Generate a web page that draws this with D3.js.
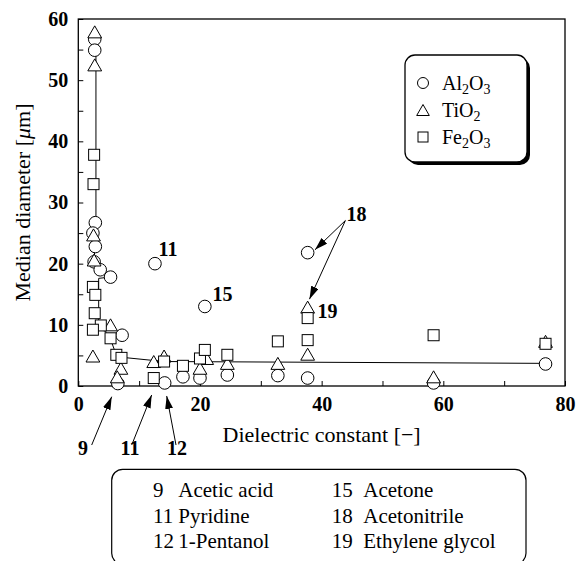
<!DOCTYPE html>
<html>
<head>
<meta charset="utf-8">
<script src="https://cdn.jsdelivr.net/npm/d3@7"></script>
<style>
body { margin: 0; background: #fff; }
text { font-family: "Liberation Serif", "Times New Roman", serif; fill: #000; }
</style>
</head>
<body>
<svg id="chart" width="576" height="561"></svg>
<script>
// data (median diameter vs dielectric constant)
const al2o3X = [2.7, 2.7, 2.8, 2.4, 2.8, 2.6, 3.6, 5.3, 7.2, 6.5, 12.6, 14.2, 17.2, 20.0, 20.8, 24.5, 32.8, 37.7, 37.7, 58.4, 76.8];
const al2o3Y = [56.7, 54.9, 26.7, 25.0, 22.8, 20.3, 19.0, 17.8, 8.3, 0.4, 20.0, 0.5, 1.5, 1.3, 13.0, 1.8, 1.7, 21.8, 1.3, 0.5, 3.6];

const tio2X = [2.7, 2.7, 2.5, 2.6, 5.3, 2.4, 7.0, 6.4, 12.4, 14.1, 21.1, 20.0, 24.5, 32.8, 37.7, 37.7, 58.4, 76.8];
const tio2Y = [57.9, 52.5, 24.7, 20.6, 10.0, 4.9, 2.9, 1.5, 4.0, 4.9, 4.5, 2.9, 3.7, 3.7, 12.9, 5.2, 1.5, 7.3];

const fe2o3X = [2.6, 2.5, 2.4, 2.8, 2.7, 3.7, 2.4, 5.3, 6.25, 7.1, 12.4, 14.1, 17.2, 20.0, 20.8, 24.5, 32.8, 37.7, 37.7, 58.4, 76.8];
const fe2o3Y = [37.8, 33.0, 16.2, 14.9, 11.9, 9.9, 9.2, 7.8, 5.1, 4.6, 1.3, 4.0, 3.3, 4.5, 5.9, 5.1, 7.3, 11.1, 7.5, 8.3, 6.9];

// guide line drawn through the data
const fitX = [2.9, 2.9, 2.6, 5.2, 3.35, 3.35, 5.2, 6.2, 7.1, 14.1, 76.8];
const fitY = [57.5, 26.6, 20.3, 17.8, 17.6, 10.3, 7.9, 5.2, 4.7, 4.0, 3.7];

const materials = ['Al2O3', 'TiO2', 'Fe2O3'];

const xTicks = [0, 10, 20, 30, 40, 50, 60, 70, 80];
const yTicks = [0, 5, 10, 15, 20, 25, 30, 35, 40, 45, 50, 55, 60];

// numbered solvents
const pointLabels = ['11', '15', '18', '19', '9', '11', '12'];
const pointLabelX = [14.74, 23.7, 45.73, 40.96, 0.77, 8.5, 16.23];
const pointLabelY = [22.4, 14.96, 28.2, 12.26, -10.14, -10.14, -10.14];

const arrowFromX = [2.2, 8.78, 16.06, 43.9, 43.9];
const arrowFromY = [-9.65, -9.65, -9.65, 27.05, 27.05];
const arrowToX = [5.49, 12.06, 14.53, 38.9, 38.0];
const arrowToY = [-1.75, -1.47, -1.63, 22.26, 14.2];

const solventNo = ['9', '11', '12', '15', '18', '19'];
const solventName = ['Acetic acid', 'Pyridine', '1-Pentanol', 'Acetone', 'Acetonitrile', 'Ethylene glycol'];

const svg = d3.select('#chart');

const x = d3.scaleLinear().domain([0, 80]).range([78.3, 565]);
const y = d3.scaleLinear().domain([0, 60]).range([386, 19]);

svg.append('rect').attr('width', 576).attr('height', 561).attr('fill', '#fff');

// axes, ticks pointing inward
svg.append('g')
    .attr('transform', 'translate(0,' + y(0) + ')')
    .call(d3.axisBottom(x).tickValues(xTicks).tickSize(-5).tickPadding(11)
        .tickFormat((d) => d % 20 === 0 ? d : ''))
    .call(g => g.select('.domain').remove())
    .call(g => g.selectAll('line').attr('stroke', '#000').attr('stroke-width', 1))
    .call(g => g.selectAll('text').attr('font-family', '"Liberation Serif", serif')
        .attr('font-size', 20).attr('font-weight', 'bold').attr('fill', '#000'));

svg.append('g')
    .attr('transform', 'translate(' + x(0) + ',0)')
    .call(d3.axisLeft(y).tickValues(yTicks).tickSize(-5).tickPadding(10)
        .tickFormat((d) => d % 10 === 0 ? d : ''))
    .call(g => g.select('.domain').remove())
    .call(g => g.selectAll('line').attr('stroke', '#000').attr('stroke-width', 1))
    .call(g => g.selectAll('text').attr('font-family', '"Liberation Serif", serif')
        .attr('font-size', 20).attr('font-weight', 'bold').attr('fill', '#000'));

svg.append('rect')
    .attr('x', x(0)).attr('y', y(60))
    .attr('width', x(80) - x(0)).attr('height', y(0) - y(60))
    .attr('fill', 'none').attr('stroke', '#000').attr('stroke-width', 1.3);

// axis titles
svg.append('text')
    .attr('x', (x(0) + x(80)) / 2).attr('y', 441.7)
    .attr('text-anchor', 'middle').attr('font-size', 22)
    .text('Dielectric constant [\u2212]');

const yTitle = svg.append('text')
    .attr('transform', 'translate(30,' + (y(0) + y(60)) / 2 + ') rotate(-90)')
    .attr('text-anchor', 'middle').attr('font-size', 22);
yTitle.append('tspan').text('Median diameter [');
yTitle.append('tspan').attr('font-style', 'italic').text('\u03bc');
yTitle.append('tspan').text('m]');

// fitted line
const fitLine = d3.line().x((d) => x(d[0])).y((d) => y(d[1]));
svg.append('path')
    .attr('d', fitLine(d3.zip(fitX, fitY)))
    .attr('fill', 'none').attr('stroke', '#000').attr('stroke-width', 1);

// markers
const trianglePath = 'M0,-6 L7,6 L-7,6 Z';
const drawShape = (g, shape, size) => {
    if (shape === 'circle') {
        g.append('circle').attr('r', size);
    } else if (shape === 'triangle') {
        g.append('path').attr('d', 'M0,' + (-size) + ' L' + size * 1.15 + ',' + size + ' L' + (-size * 1.15) + ',' + size + ' Z');
    } else {
        g.append('rect').attr('x', -size).attr('y', -size).attr('width', size * 2).attr('height', size * 2);
    }
};

const series = [
    { xs: al2o3X, ys: al2o3Y, shape: 'circle', size: 6.3 },
    { xs: tio2X, ys: tio2Y, shape: 'triangle', size: 6 },
    { xs: fe2o3X, ys: fe2o3Y, shape: 'square', size: 5.5 }
];

series.forEach((s) => {
    svg.append('g').selectAll('g')
        .data(d3.zip(s.xs, s.ys)).enter().append('g')
        .attr('transform', (d) => 'translate(' + x(d[0]) + ',' + y(d[1]) + ')')
        .attr('fill', '#fff').attr('stroke', '#000').attr('stroke-width', 1)
        .each(function () { drawShape(d3.select(this), s.shape, s.size); });
});

// arrows
svg.append('defs').append('marker')
    .attr('id', 'head').attr('markerUnits', 'userSpaceOnUse')
    .attr('markerWidth', 14).attr('markerHeight', 8)
    .attr('refX', 13).attr('refY', 4).attr('orient', 'auto')
    .append('path').attr('d', 'M0,0 L13,4 L0,8 Z').attr('fill', '#000');

svg.append('g').selectAll('line')
    .data(d3.range(arrowFromX.length)).enter().append('line')
    .attr('x1', (i) => x(arrowFromX[i])).attr('y1', (i) => y(arrowFromY[i]))
    .attr('x2', (i) => x(arrowToX[i])).attr('y2', (i) => y(arrowToY[i]))
    .attr('stroke', '#000').attr('stroke-width', 1)
    .attr('marker-end', 'url(#head)');

svg.append('g').selectAll('text')
    .data(pointLabels).enter().append('text')
    .attr('x', (d, i) => x(pointLabelX[i])).attr('y', (d, i) => y(pointLabelY[i]))
    .attr('dy', '0.35em').attr('text-anchor', 'middle')
    .attr('font-size', 20).attr('font-weight', 'bold')
    .text((d) => d);

// legend
const legend = svg.append('g');
legend.append('rect').attr('x', 408).attr('y', 58).attr('width', 122).attr('height', 107)
    .attr('rx', 10).attr('fill', '#000');
legend.append('rect').attr('x', 405).attr('y', 55).attr('width', 122).attr('height', 107)
    .attr('rx', 10).attr('fill', '#fff').attr('stroke', '#000').attr('stroke-width', 1.3);

const legendShapes = ['circle', 'triangle', 'square'];
const legendSizes = [5.5, 5.5, 5];
materials.forEach((m, i) => {
    const rowY = 83 + i * 27;
    const mk = legend.append('g').attr('transform', 'translate(423,' + rowY + ')')
        .attr('fill', '#fff').attr('stroke', '#000').attr('stroke-width', 1);
    drawShape(mk, legendShapes[i], legendSizes[i]);
    const t = legend.append('text').attr('x', 442).attr('y', rowY + 6.5).attr('font-size', 20);
    let sub = false;
    m.match(/[A-Za-z]+|\d+/g).forEach((part) => {
        const isDigit = /\d/.test(part);
        t.append('tspan')
            .attr('font-size', isDigit ? 14 : 20)
            .attr('dy', isDigit === sub ? 0 : (isDigit ? 4 : -4))
            .text(part);
        sub = isDigit;
    });
});

// solvent table
svg.append('rect').attr('x', 111.7).attr('y', 469.3).attr('width', 414.3).attr('height', 95)
    .attr('rx', 11).attr('fill', '#fff').attr('stroke', '#000').attr('stroke-width', 1.2);

const rowBase = [496.7, 523, 548];
const noX = [153, 331.7];
const nameX = [178.3, 363.3];
solventNo.forEach((n, i) => {
    const col = Math.floor(i / 3);
    const row = i % 3;
    svg.append('text').attr('x', noX[col]).attr('y', rowBase[row]).attr('font-size', 21).text(n);
    svg.append('text').attr('x', nameX[col]).attr('y', rowBase[row]).attr('font-size', 21).text(solventName[i]);
});
</script>
</body>
</html>
